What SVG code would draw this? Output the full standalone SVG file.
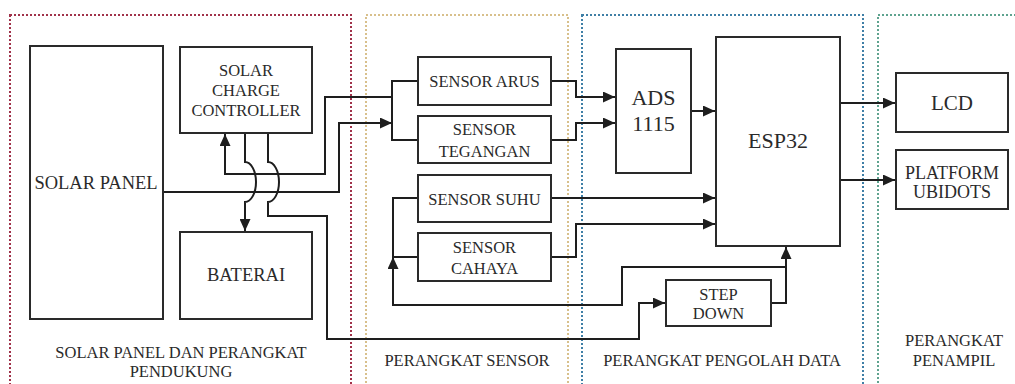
<svg xmlns="http://www.w3.org/2000/svg" width="1015" height="384" viewBox="0 0 1015 384">
<defs>
<marker id="ah" markerUnits="userSpaceOnUse" markerWidth="13" markerHeight="11" refX="12" refY="5.5" orient="auto">
<path d="M0,0 L12,5.5 L0,11 z" fill="#1e1e1e"/>
</marker>
<style>
.box{fill:#fff;stroke:#2a2a2a;stroke-width:2}
.t{font-family:"Liberation Serif","Times New Roman",serif;font-size:16.5px;fill:#2a2a2a;text-anchor:middle}
.big{font-size:22px}
.c{fill:none;stroke:#1e1e1e;stroke-width:2}
.a{marker-end:url(#ah)}
.reg{fill:none;stroke-width:2;stroke-dasharray:2 2}
</style>
</defs>
<rect width="1015" height="384" fill="#fff"/>
<g id="regions">
<rect class="reg" x="10" y="15" width="341" height="400" stroke="#a0324a"/>
<rect class="reg" x="366" y="15" width="202" height="400" stroke="#d8c08c"/>
<rect class="reg" x="582" y="15" width="281" height="400" stroke="#3f7fa6"/>
<rect class="reg" x="878" y="15" width="160" height="400" stroke="#5ea38f"/>
</g>
<g id="connectors">
<path class="c a" d="M163,192 H339 V123 H392"/>
<path class="c" d="M418,81 H392 V140 H418"/>
<path class="c a" d="M392,97 H325 V174 H225 V134"/>
<path class="c a" d="M245,134 V162 A11 20 0 0 1 245 202 V231"/>
<path class="c a" d="M268,134 V162 A11 20 0 0 1 268 202 V216 H327 V339 H639 V303 H665"/>
<path class="c a" d="M551,81 H576 V97 H615"/>
<path class="c a" d="M551,140 H576 V123 H615"/>
<path class="c a" d="M691,111 H715"/>
<path class="c a" d="M551,198 H715"/>
<path class="c a" d="M551,257 H576 V224 H715"/>
<path class="c a" d="M771,303 H786 V247"/>
<path class="c" d="M786,267 H622 V305 H393 V270"/>
<path class="c a" d="M393,272 V257"/>
<path class="c" d="M418,198 H393 V257 H418"/>
<path class="c a" d="M840,103 H895"/>
<path class="c a" d="M840,180 H895"/>
</g>
<g id="solar-panel">
<rect class="box" x="30" y="46" width="133" height="273"/>
<text class="t" x="96" y="189" style="font-size:18.5px">SOLAR PANEL</text>
</g>
<g id="scc">
<rect class="box" x="180" y="47" width="132" height="86"/>
<text class="t" x="246" y="76">SOLAR</text>
<text class="t" x="246" y="96">CHARGE</text>
<text class="t" x="246" y="116">CONTROLLER</text>
</g>
<g id="baterai">
<rect class="box" x="180" y="232" width="132" height="87"/>
<text class="t" x="246" y="281" style="font-size:18.5px">BATERAI</text>
</g>
<g id="sensor-arus">
<rect class="box" x="418" y="57" width="133" height="48"/>
<text class="t" x="484.5" y="87">SENSOR ARUS</text>
</g>
<g id="sensor-tegangan">
<rect class="box" x="418" y="116" width="133" height="47"/>
<text class="t" x="484.5" y="135">SENSOR</text>
<text class="t" x="484.5" y="156.5">TEGANGAN</text>
</g>
<g id="sensor-suhu">
<rect class="box" x="418" y="175" width="133" height="47"/>
<text class="t" x="484.5" y="204.5">SENSOR SUHU</text>
</g>
<g id="sensor-cahaya">
<rect class="box" x="418" y="233" width="133" height="48"/>
<text class="t" x="484.5" y="253">SENSOR</text>
<text class="t" x="484.5" y="274">CAHAYA</text>
</g>
<g id="ads1115">
<rect class="box" x="616" y="49" width="75" height="124"/>
<text class="t big" x="653.5" y="105">ADS</text>
<text class="t big" x="653.5" y="131">1115</text>
</g>
<g id="esp32">
<rect class="box" x="716" y="37" width="124" height="209"/>
<text class="t big" x="778" y="148">ESP32</text>
</g>
<g id="step-down">
<rect class="box" x="666" y="280" width="105" height="46"/>
<text class="t" x="718.5" y="299.5">STEP</text>
<text class="t" x="718.5" y="318.5">DOWN</text>
</g>
<g id="lcd">
<rect class="box" x="896" y="73" width="112" height="59"/>
<text class="t" x="952" y="110" style="font-size:21px">LCD</text>
</g>
<g id="platform">
<rect class="box" x="896" y="150" width="112" height="59"/>
<text class="t" x="952" y="178.5" style="font-size:18px">PLATFORM</text>
<text class="t" x="952" y="198" style="font-size:18px">UBIDOTS</text>
</g>
<g id="labels">
<text class="t" x="181" y="357.5">SOLAR PANEL DAN PERANGKAT</text>
<text class="t" x="181" y="376.5">PENDUKUNG</text>
<text class="t" x="467" y="365.5">PERANGKAT SENSOR</text>
<text class="t" x="722" y="365.5">PERANGKAT PENGOLAH DATA</text>
<text class="t" x="954" y="345.5">PERANGKAT</text>
<text class="t" x="954" y="365.5">PENAMPIL</text>
</g>
</svg>
